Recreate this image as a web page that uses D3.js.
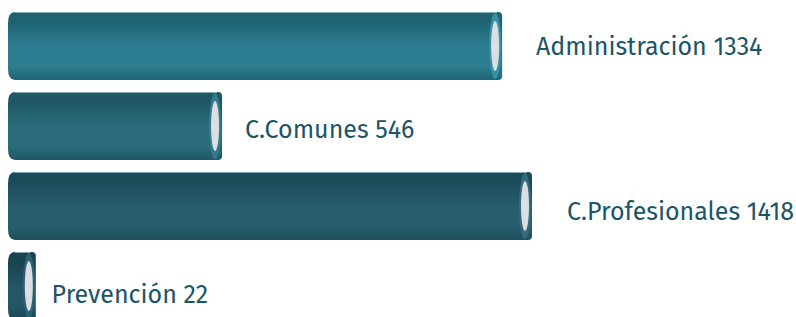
<!DOCTYPE html>
<html><head><meta charset="utf-8">
<script src="https://cdn.jsdelivr.net/npm/d3@7"></script>
<style>html,body{margin:0;padding:0;background:#fff;}svg{display:block;}</style>
</head><body>
<script>
const categories = ["Administración", "C.Comunes", "C.Profesionales", "Prevención"];
const values = [1334, 546, 1418, 22];

const palettes = [
  {top:"#1f6373", mid:"#2c7d90", bot:"#1d6474", rim:"#3b8fa2"},
  {top:"#1f5765", mid:"#2a6c7b", bot:"#1e5866", rim:"#357b8a"},
  {top:"#1c4b5a", mid:"#285d6d", bot:"#1d4e5d", rim:"#336b7a"},
  {top:"#19434f", mid:"#245667", bot:"#194552", rim:"#2d6272"}
];

const W = 796, H = 317;
const svg = d3.select("body").append("svg").attr("width", W).attr("height", H);
const defs = svg.append("defs");

const x0 = 8;
const len = d3.scaleLinear().domain([0, d3.max(values)]).range([20, 524]);
const labelX = d3.scaleLinear().domain([0, d3.max(values)]).range([43.5, 567]);
const y = d3.scaleBand().domain(categories).range([12, 320]).paddingInner(0.15).paddingOuter(0);
const labelY = d3.scalePoint().domain(categories).range([48.5, 296.5]);

const data = categories.map((c, i) => ({c, v: values[i], p: palettes[i], i}));

data.forEach(d => {
  const g = defs.append("linearGradient").attr("id", "g" + d.i)
    .attr("x1", 0).attr("y1", 0).attr("x2", 0).attr("y2", 1);
  [[0, d.p.top],[0.15, d.p.top],[0.5, d.p.mid],[0.8, d.p.mid],[1, d.p.bot]].forEach(s =>
    g.append("stop").attr("offset", s[0]).attr("stop-color", s[1]));
});

const bars = svg.selectAll("g.bar").data(data).enter().append("g").attr("class", "bar");

bars.each(function(d) {
  const g = d3.select(this);
  const top = y(d.c), h = y.bandwidth();
  const xe = x0 + len(d.v);
  const r = 7;
  const path = d3.path();
  path.moveTo(x0 + r, top);
  path.lineTo(xe - 4, top);
  path.quadraticCurveTo(xe, top, xe, top + 4);
  path.lineTo(xe, top + h - 4);
  path.quadraticCurveTo(xe, top + h, xe - 4, top + h);
  path.lineTo(x0 + r, top + h);
  path.quadraticCurveTo(x0, top + h, x0, top + h - r * 1.6);
  path.lineTo(x0, top + r * 1.6);
  path.quadraticCurveTo(x0, top, x0 + r, top);
  path.closePath();
  g.append("path").attr("d", path.toString()).attr("fill", "url(#g" + d.i + ")");
  g.append("line").attr("x1", x0 + r).attr("x2", xe - 5).attr("y1", top + 0.5).attr("y2", top + 0.5)
    .attr("stroke", "#9fc2cc").attr("stroke-width", 1).attr("opacity", 0.8);
  g.append("ellipse").attr("cx", xe - 7).attr("cy", top + h / 2)
    .attr("rx", 6).attr("ry", h / 2 - 1).attr("fill", d.p.rim);
  g.append("ellipse").attr("cx", xe - 7).attr("cy", top + h / 2)
    .attr("rx", 4).attr("ry", h / 2 - 9).attr("fill", "#dcdfe1");
});

svg.selectAll("text.lbl").data(data).enter().append("text").attr("class", "lbl")
  .attr("x", d => labelX(d.v))
  .attr("y", d => labelY(d.c))
  .attr("dominant-baseline", "middle")
  .attr("font-family", "'Fira Sans','Open Sans','Noto Sans',sans-serif")
  .attr("font-size", 25)
  .attr("fill", "#1b5567")
  .text(d => d.c + " " + d.v);
</script>
</body></html>
